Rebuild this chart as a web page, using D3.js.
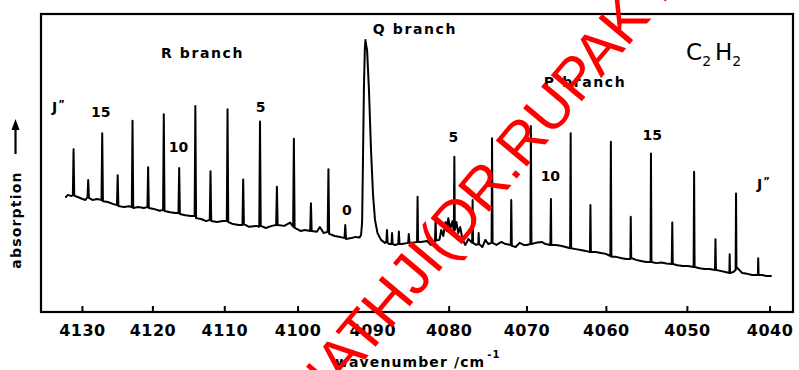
<!DOCTYPE html>
<html><head><meta charset="utf-8">
<script src="https://cdn.jsdelivr.net/npm/d3@7"></script>
<style>
html,body{margin:0;padding:0;background:#fff;}
svg{display:block;}
</style></head>
<body>
<svg id="chart" width="799" height="370"></svg>
<script>
// ---------- data ----------
const xTicks = [4130, 4120, 4110, 4100, 4090, 4080, 4070, 4060, 4050, 4040];
const xDomain = [4135.9, 4037.2];   // wavenumber / cm-1 (axis runs high -> low)
const yDomain = [0, 100];           // absorption, arbitrary units

// recorded trace [wavenumber, absorption]
const spectrum = [
 [4132.3,38.6],[4132.0,39.3],[4131.5,38.9],[4131.3,39.3],[4131.2,54.6],[4131.1,39.0],[4130.6,38.6],[4130.0,38.0],
 [4129.5,37.6],[4129.2,38.6],[4129.1,44.3],[4129.0,38.3],[4128.5,37.6],[4127.8,37.9],[4127.2,37.6],[4127.1,60.0],
 [4127.0,37.2],[4126.3,36.9],[4125.5,36.2],[4125.0,35.9],[4124.9,45.9],[4124.8,35.6],[4124.0,35.2],[4123.3,35.5],
 [4122.9,35.2],[4122.8,64.2],[4122.7,34.9],[4122.0,35.2],[4121.2,34.9],[4120.7,35.2],[4120.6,48.6],[4120.5,34.9],
 [4119.8,34.6],[4119.0,34.0],[4118.5,34.2],[4118.4,66.4],[4118.3,33.9],[4117.5,33.5],[4116.8,33.2],[4116.35,33.2],
 [4116.25,48.3],[4116.15,32.9],[4115.4,32.5],[4114.6,32.2],[4114.1,32.2],[4114.0,69.1],[4113.9,31.5],[4113.2,31.2],
 [4112.5,30.5],[4112.0,30.9],[4111.9,47.2],[4111.8,30.5],[4111.0,30.2],[4110.2,30.5],[4109.65,30.5],[4109.55,68.0],
 [4109.45,30.2],[4108.8,29.5],[4108.0,29.2],[4107.5,29.2],[4107.4,44.5],[4107.3,29.5],[4106.6,28.6],[4105.6,28.9],
 [4105.2,28.6],[4105.1,63.9],[4105.0,28.9],[4104.3,28.2],[4103.5,28.9],[4102.9,29.2],[4102.8,42.0],[4102.7,29.2],
 [4101.8,28.9],[4101.0,30.0],[4100.6,28.6],[4100.5,58.1],[4100.4,28.2],[4099.6,27.2],[4099.0,27.5],[4098.3,27.2],
 [4098.2,36.5],[4098.1,27.2],[4097.4,26.9],[4097.0,28.5],[4096.5,26.5],[4095.95,26.9],[4095.85,47.9],[4095.75,26.2],
 [4095.0,25.5],[4094.3,25.2],[4093.7,24.8],[4093.6,29.2],[4093.5,24.5],[4092.8,24.8],[4092.2,25.2],[4091.7,25.0],
 [4091.5,25.8],[4091.36,30.0],[4091.25,50.0],[4091.12,75.0],[4091.0,88.0],[4090.92,91.3],[4090.85,90.0],[4090.7,87.9],
 [4090.45,74.5],[4090.18,54.4],[4089.91,39.3],[4089.65,30.9],[4089.32,26.5],[4088.86,24.2],[4088.34,23.2],
 [4088.15,23.5],[4088.07,27.5],[4087.98,23.2],[4087.8,22.8],[4087.48,22.8],[4087.4,26.5],[4087.32,22.8],[4087.0,22.5],
 [4086.58,22.8],[4086.5,27.0],[4086.42,22.8],[4086.1,22.8],[4085.28,23.2],[4085.2,26.2],[4085.12,23.2],[4084.8,23.2],
 [4084.12,23.5],[4084.05,38.7],[4083.98,23.5],[4083.6,23.5],[4082.8,23.8],[4082.3,22.5],[4081.78,23.8],[4081.7,30.9],
 [4081.62,24.0],[4081.2,24.2],[4080.96,27.5],[4080.7,25.5],[4080.4,30.2],[4080.25,27.2],[4080.04,31.5],[4079.8,27.9],
 [4079.5,30.5],[4079.33,27.0],[4079.26,52.1],[4079.2,27.5],[4079.0,30.2],[4078.75,26.5],[4078.5,28.5],[4078.23,24.5],
 [4077.84,22.5],[4077.45,24.5],[4076.96,23.2],[4076.9,37.6],[4076.84,23.2],[4076.42,22.5],[4076.17,22.8],[4076.12,26.5],
 [4076.07,22.8],[4075.65,21.8],[4075.26,24.2],[4074.87,22.8],[4074.46,23.2],[4074.4,58.3],[4074.33,23.2],[4073.84,22.5],
 [4073.2,23.5],[4072.67,22.8],[4072.0,22.5],[4071.94,37.6],[4071.87,22.2],[4071.38,21.8],[4070.87,23.2],[4070.35,22.5],
 [4069.96,22.5],[4069.5,22.8],[4069.44,62.4],[4069.37,22.8],[4068.83,23.2],[4068.07,23.5],[4067.57,22.8],[4066.97,22.5],
 [4066.9,37.9],[4066.85,22.5],[4066.3,22.5],[4065.67,22.2],[4065.04,21.8],[4064.48,21.4],[4064.41,60.0],[4064.35,21.4],
 [4063.78,21.1],[4063.15,20.8],[4062.52,20.5],[4061.99,20.1],[4061.93,35.9],[4061.87,20.1],[4061.26,20.1],[4060.63,19.8],
 [4060.0,19.5],[4059.44,18.8],[4059.38,57.1],[4059.31,18.5],[4058.75,18.5],[4058.13,18.1],[4057.5,17.8],[4056.96,17.8],
 [4056.91,32.0],[4056.85,18.1],[4056.25,17.5],[4055.63,17.1],[4055.0,16.8],[4054.46,16.8],[4054.41,53.2],[4054.35,16.8],
 [4053.75,16.4],[4053.13,16.6],[4052.5,16.3],[4051.85,16.1],[4051.79,30.0],[4051.73,16.1],[4051.13,15.7],[4050.5,15.4],
 [4049.88,15.4],[4049.18,15.1],[4049.12,47.1],[4049.06,15.1],[4048.44,14.7],[4047.84,14.4],[4047.24,14.4],[4046.58,14.1],
 [4046.52,24.4],[4046.46,14.1],[4045.92,13.8],[4045.32,13.4],[4044.84,13.1],[4044.8,19.4],[4044.76,13.1],[4044.36,13.4],
 [4044.08,14.1],[4044.03,39.8],[4043.98,15.1],[4043.76,14.4],[4043.28,13.1],[4042.68,12.8],[4042.08,12.4],[4041.4,12.4],
 [4041.36,18.0],[4041.31,12.4],[4040.88,12.4],[4040.4,12.1],[4039.83,12.1]
];

// branch labels
const branchNames = ["R branch", "Q branch", "P branch"];
const branchWn    = [4113.0, 4084.4, 4062.6];
const branchAbs   = [85.4, 93.3, 75.6];

// J'' rotational quantum number labels
const jNames = ["15", "10", "5", "0", "5", "10", "15"];
const jWn    = [4127.3, 4116.35, 4105.0, 4093.4, 4079.4, 4066.97, 4054.25];
const jAbs   = [65.5, 53.8, 67.2, 32.6, 57.1, 44.1, 57.7];
const jHeadWn  = [4134.3, 4041.5];
const jHeadAbs = [67.1, 41.3];

const molecule = {wn: 4050.1, abs: 84.6};

// ---------- layout ----------
const margin = {left: 41, top: 14, right: 6, bottom: 58};
const W = 799 - margin.left - margin.right;
const H = 370 - margin.top - margin.bottom;
const FONT = "'DejaVu Sans', sans-serif";

const svg = d3.select("#chart");
const g = svg.append("g").attr("transform", `translate(${margin.left},${margin.top})`);

// the printed wavenumber axis of this scanned figure is slightly non-uniform;
// a power scale reproduces its tick spacing
const x = d3.scalePow().exponent(-7.15).domain(xDomain).range([0, W]);
const y = d3.scaleLinear().domain(yDomain).range([H, 0]);

// frame
g.append("rect").attr("x", 0).attr("y", 0).attr("width", W).attr("height", H)
  .attr("fill", "none").attr("stroke", "#000").attr("stroke-width", 2.2);

// x axis
const gx = g.append("g").attr("transform", `translate(0,${H})`)
  .call(d3.axisBottom(x).tickValues(xTicks).tickSize(-6).tickPadding(13).tickFormat(d3.format("d")));
gx.select(".domain").remove();
gx.selectAll(".tick line").attr("stroke", "#000").attr("stroke-width", 2);
gx.selectAll(".tick text").attr("font-family", FONT).attr("font-size", 16)
  .attr("font-weight", "bold").attr("fill", "#000").attr("letter-spacing", 0.5);

// spectrum
const line = d3.line().x(d => x(d[0])).y(d => y(d[1]));
g.append("path").datum(spectrum).attr("d", line)
  .attr("fill", "none").attr("stroke", "#000").attr("stroke-width", 2)
  .attr("stroke-linejoin", "round").attr("stroke-linecap", "round");

// branch labels
branchNames.forEach((t, i) => {
  g.append("text").attr("x", x(branchWn[i])).attr("y", y(branchAbs[i]))
    .attr("text-anchor", "middle").attr("font-family", FONT).attr("font-size", 14)
    .attr("font-weight", "bold").attr("letter-spacing", 1.6).text(t);
});

// J labels
jNames.forEach((t, i) => {
  g.append("text").attr("x", x(jWn[i])).attr("y", y(jAbs[i]))
    .attr("text-anchor", "middle").attr("font-family", FONT).attr("font-size", 14)
    .attr("font-weight", "bold").text(t);
});
jHeadWn.forEach((wn, i) => {
  const t = g.append("text").attr("x", x(wn)).attr("y", y(jHeadAbs[i]))
    .attr("font-family", FONT).attr("font-size", 14).attr("font-weight", "bold");
  t.append("tspan").text("J");
  t.append("tspan").attr("font-size", 10).attr("dy", -4).attr("dx", 1).text("\u201D");
});

// molecule label C2H2
const mol = g.append("text").attr("x", x(molecule.wn)).attr("y", y(molecule.abs))
  .attr("font-family", FONT).attr("font-size", 23);
mol.append("tspan").text("C");
mol.append("tspan").attr("font-size", 14).attr("dy", 6).text("2");
mol.append("tspan").attr("dy", -6).attr("dx", 4).text("H");
mol.append("tspan").attr("font-size", 14).attr("dy", 6).text("2");

// axis titles
const xl = svg.append("text").attr("x", 335).attr("y", 367)
  .attr("font-family", FONT).attr("font-size", 14).attr("font-weight", "bold").attr("letter-spacing", 1.1);
xl.append("tspan").text("wavenumber /cm");
xl.append("tspan").attr("font-size", 10).attr("dy", -9).attr("dx", 2).text("-1");

svg.append("text").attr("transform", "translate(21,220) rotate(-90)")
  .attr("text-anchor", "middle").attr("font-family", FONT).attr("font-size", 14)
  .attr("font-weight", "bold").attr("letter-spacing", 1.2).text("absorption");
svg.append("line").attr("x1", 15.5).attr("x2", 15.5).attr("y1", 154).attr("y2", 128)
  .attr("stroke", "#000").attr("stroke-width", 2.2);
svg.append("path").attr("d", "M15.5,119 L11.5,130 L19.5,130 Z").attr("fill", "#000");

// watermark
svg.append("text").attr("transform", "translate(316,418) rotate(-50)")
  .attr("font-family", "'Liberation Sans', Arial, sans-serif").attr("font-size", 59)
  .attr("fill", "#ff0000").text("NATHJI(DR.RUPAK NATH)");
</script>
</body></html>
